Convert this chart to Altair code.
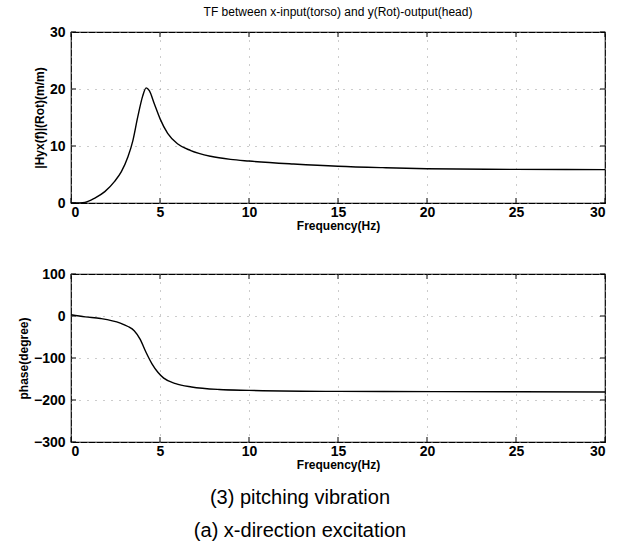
import altair as alt
import pandas as pd

# Magnitude of the transfer function |Hyx(f)| (Rot), m/m
freq_mag = [0.0, 0.5, 0.78, 1.34, 1.9, 2.45, 2.83, 3.2, 3.48, 3.75, 4.03, 4.22,
            4.4, 4.68, 5.0, 5.43, 5.98, 6.73, 7.84, 8.96, 10.0, 12.5, 15.0,
            17.5, 20.0, 25.0, 30.0]
mag = [0.0, 0.02, 0.1, 0.87, 2.0, 3.8, 5.5, 8.1, 11.0, 15.1, 18.8, 20.2,
       19.7, 17.4, 14.8, 12.2, 10.4, 9.2, 8.2, 7.65, 7.36, 6.85, 6.45,
       6.2, 6.02, 5.9, 5.85]

# Phase, degrees
freq_ph = [0.0, 0.8, 1.66, 2.77, 3.2, 3.55, 3.88, 4.22, 4.55, 4.88, 5.21,
           5.88, 6.77, 8.32, 10.0, 15.0, 20.5, 30.0]
phase = [3, -2, -6, -17, -25, -35, -55, -87, -114, -134, -148,
         -161, -169, -175, -177, -179.5, -180, -181]

x_ticks = [0, 5, 10, 15, 20, 25, 30]
mag_ticks = [0, 10, 20, 30]
ph_ticks = [-300, -200, -100, 0, 100]

W = 534
H1 = 171
H2 = 168
TICK = 5
FONT = "Liberation Sans"

df_mag = pd.DataFrame({"f": freq_mag, "v": mag})
df_ph = pd.DataFrame({"f": freq_ph, "v": phase})
df_xt = pd.DataFrame({"t": x_ticks})


def panel(df, ydom, yticks, ytitle, h, title=None):
    xs = alt.Scale(domain=[0, 30], nice=False)
    ys = alt.Scale(domain=ydom, nice=False)
    x_axis = alt.Axis(values=x_ticks, title="Frequency(Hz)", grid=True,
                      gridDash=[1, 7], gridColor="#999", ticks=False,
                      domain=False, labelPadding=2, titlePadding=1,
                      labelFontSize=14, labelFont=FONT, labelFontWeight="bold",
                      titleFontSize=12, titleFont=FONT, titleFontWeight="bold",
                      labelColor="black", titleColor="black")
    y_axis = alt.Axis(values=yticks, title=ytitle, grid=True,
                      gridDash=[1, 7], gridColor="#999", ticks=False,
                      domain=False, labelPadding=6, titlePadding=3,
                      labelFontSize=14, labelFont=FONT, labelFontWeight="bold",
                      titleFontSize=12, titleFont=FONT, titleFontWeight="bold",
                      labelColor="black", titleColor="black")
    line = alt.Chart(df).mark_line(color="black", strokeWidth=1.4,
                                   interpolate="monotone").encode(
        x=alt.X("f:Q", scale=xs, axis=x_axis),
        y=alt.Y("v:Q", scale=ys, axis=y_axis),
    )
    df_yt = pd.DataFrame({"t": yticks})
    tb = alt.Chart(df_xt).mark_rule(color="black").encode(
        x=alt.X("t:Q", scale=xs), y=alt.value(h), y2=alt.value(h - TICK))
    tt = alt.Chart(df_xt).mark_rule(color="black").encode(
        x=alt.X("t:Q", scale=xs), y=alt.value(0), y2=alt.value(TICK))
    tl = alt.Chart(df_yt).mark_rule(color="black").encode(
        y=alt.Y("t:Q", scale=ys), x=alt.value(0), x2=alt.value(TICK))
    tr = alt.Chart(df_yt).mark_rule(color="black").encode(
        y=alt.Y("t:Q", scale=ys), x=alt.value(W - TICK), x2=alt.value(W))
    layers = [line, tb, tt, tl, tr]
    props = dict(width=W, height=h)
    if title:
        props["title"] = alt.TitleParams(title, fontSize=12, font=FONT,
                                         fontWeight="normal", color="black",
                                         offset=6)
    return layers, props


top_layers, top_props = panel(df_mag, [0, 30], mag_ticks,
                              "|Hyx(f)|(Rot)(m/m)", H1,
                              "TF between x-input(torso) and y(Rot)-output(head)")
bot_layers, bot_props = panel(df_ph, [-300, 100], ph_ticks,
                              "phase(degree)", H2)

captions = pd.DataFrame({
    "text": ["(3) pitching vibration", "(a) x-direction excitation"],
    "dy": [H2 + 56, H2 + 89],
})
cap = alt.Chart(captions).mark_text(
    font=FONT, fontSize=20, color="black",
    align="center", baseline="middle"
).encode(text="text:N", x=alt.value(229), y=alt.Y("dy:Q", scale=None))

top = alt.layer(*top_layers).properties(**top_props)
bottom = alt.layer(*bot_layers, cap).properties(**bot_props)

chart = alt.vconcat(top, bottom, spacing=34).properties(
    padding={"left": 16, "top": 5, "right": 10, "bottom": 0},
    background="white",
).configure_view(stroke="black", strokeWidth=1.2)

chart.save("out.html", embed_options={"renderer": "svg", "actions": False})
